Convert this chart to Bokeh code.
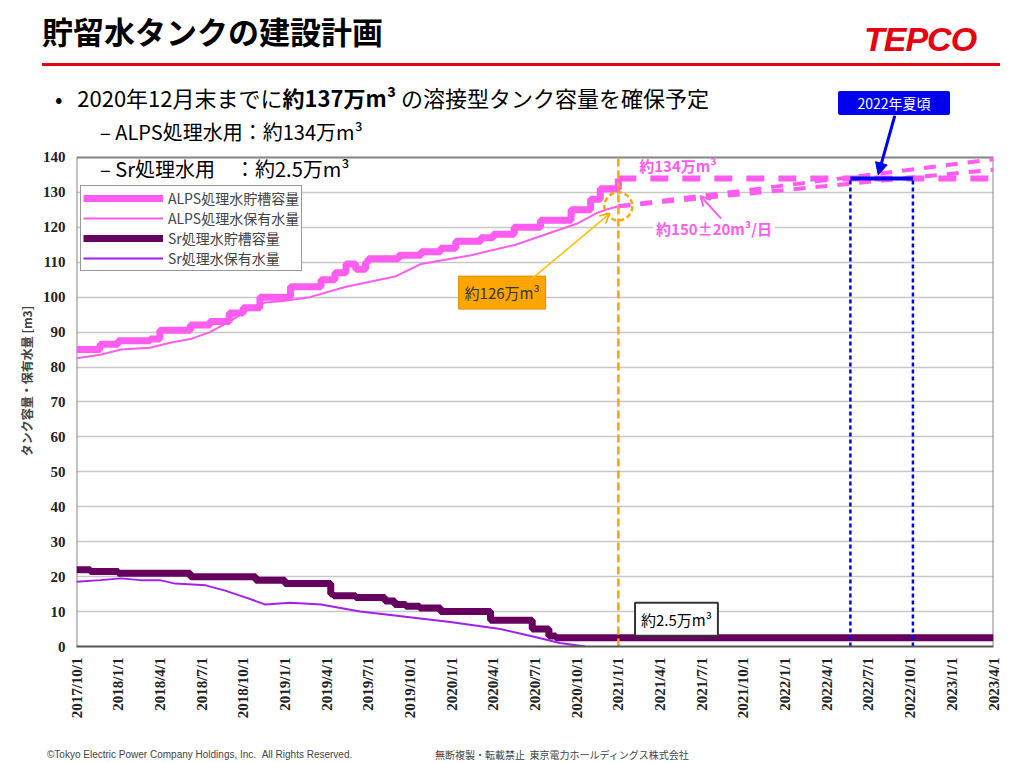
import math
from bokeh.plotting import figure
from bokeh.layouts import column
from bokeh.models import (Label, Arrow, NormalHead, OpenHead, FixedTicker, Legend, LegendItem, Div)
from bokeh.embed import file_html
from bokeh.resources import INLINE

# ---- data (x = months since 2017/10/1) ----
tick_labels = ["2017/10/1","2018/1/1","2018/4/1","2018/7/1","2018/10/1","2019/1/1","2019/4/1",
               "2019/7/1","2019/10/1","2020/1/1","2020/4/1","2020/7/1","2020/10/1","2021/1/1",
               "2021/4/1","2021/7/1","2021/10/1","2022/1/1","2022/4/1","2022/7/1","2022/10/1",
               "2023/1/1","2023/4/1"]
alps_cap_x = [0, 1.7, 3.0, 5.3, 6.0, 8.2, 9.6, 11.0, 12.0, 13.2, 15.4, 17.6, 18.6, 19.4, 20.1, 20.8,
              21.0, 23.2, 24.8, 26.2, 27.3, 29.1, 30.0, 31.5, 33.4, 35.6, 37.0, 37.7, 39.0]
alps_cap_y = [85, 86.5, 87.5, 88, 90.5, 92, 93, 95.5, 97, 100, 103, 105, 107, 109.5, 108, 110,
              111, 112, 113, 114, 116, 117, 118, 120, 122, 125, 128, 131, 134]
alps_hold_x = [0, 1.7, 3.2, 5.3, 6.8, 8.2, 9.6, 11.0, 12.2, 13.6, 15.0, 16.8, 19.4, 23.0, 24.8,
               28.4, 31.6, 33.8, 36.0, 37.4, 38.1, 39.0]
alps_hold_y = [82.5, 83.5, 85, 85.5, 87, 88, 90, 93, 96, 98.5, 99, 100, 103, 106, 109.5,
               112, 115, 118, 121, 124, 125, 126]
cap_plan_x = [39, 66]
cap_plan_y = [134, 134]
proj_hi_x = [39, 66]
proj_hi_y = [126, 139.5]
proj_lo_x = [39, 66]
proj_lo_y = [126, 136.5]
sr_cap_x = [0, 1.0, 3.0, 8.2, 12.9, 15.0, 18.3, 18.5, 20.1, 22.2, 22.9, 23.7, 24.7, 26.2, 27.3,
            29.8, 31.5, 32.8, 34.0, 34.5, 66]
sr_cap_y = [22, 21.5, 21, 20, 19, 18, 15, 14.5, 14, 13, 12, 11.5, 11, 10, 10,
            7.5, 7.5, 5, 3, 2.5, 2.5]
sr_hold_x = [0, 1.7, 3.2, 4.6, 6.0, 7.1, 9.3, 10.7, 12.2, 13.6, 15.4, 17.6, 20.4, 22.6, 26.9,
             30.5, 32.7, 34.8, 36.6]
sr_hold_y = [18.5, 19, 19.5, 19, 19, 18, 17.5, 16, 14, 12, 12.5, 12, 10, 9, 7, 5, 3, 1, 0]
target_month = 39
summer_2022 = [55.7, 60.2]

PINK = "#ff5cf0"
SRCAP = "#66005e"
SRHOLD = "#a41ef0"
JP = "'Noto Sans CJK JP', sans-serif"

header = Div(width=1024, height=115, styles={"margin": "0", "padding": "0"}, text=f"""
<div style="position:relative;width:1024px;height:115px;font-family:{JP};color:#000;">
 <div style="position:absolute;left:42px;top:9px;font-size:31px;font-weight:bold;">貯留水タンクの建設計画</div>
 <div style="position:absolute;left:864px;top:15px;font-size:34px;font-weight:bold;font-style:italic;color:#e60012;font-family:'Liberation Sans';letter-spacing:-1px;">TEPCO</div>
 <div style="position:absolute;left:42px;top:63px;width:958px;height:3px;background:#e60012;"></div>
 <div style="position:absolute;left:55px;top:82px;font-size:22px;white-space:nowrap;">•&nbsp;&nbsp;&nbsp;2020年12月末までに<b>約137万m³</b> の溶接型タンク容量を確保予定</div>
 <div style="position:absolute;left:838px;top:91px;width:112px;height:24px;background:#0000ee;color:white;font-size:14px;text-align:center;line-height:24px;border-radius:2px;">2022年夏頃</div>
</div>""")

p = figure(width=1024, height=628, x_range=(0, 66), y_range=(0, 152),
           output_backend="svg", toolbar_location=None,
           min_border_left=76, min_border_right=31, min_border_top=0, min_border_bottom=97)
p.outline_line_color = None
p.background_fill_color = "white"
p.xgrid.grid_line_color = None
p.ygrid.grid_line_color = "#c8c8c8"
p.ygrid.grid_line_width = 1.5
p.yaxis.ticker = FixedTicker(ticks=list(range(0, 141, 10)))
p.xaxis.ticker = FixedTicker(ticks=list(range(0, 67, 3)))
p.xaxis.major_label_overrides = {i * 3: t for i, t in enumerate(tick_labels)}
p.xaxis.major_label_orientation = math.pi / 2
for ax in (p.xaxis, p.yaxis):
    ax.axis_line_color = None
    ax.major_tick_line_color = None
    ax.minor_tick_line_color = None
    ax.major_label_text_font = "Liberation Serif"
    ax.major_label_text_font_style = "bold"
    ax.major_label_text_color = "#222222"
p.xaxis.axis_line_color = "#555555"
p.xaxis.axis_line_width = 2
p.xaxis.major_label_text_font_size = "15px"
p.yaxis.major_label_text_font_size = "15px"
p.yaxis.axis_label = "タンク容量・保有水量 [m3]"
p.yaxis.axis_label_text_font = "Noto Sans CJK JP"
p.yaxis.axis_label_text_font_size = "12px"
p.yaxis.axis_label_text_font_style = "bold"

p.line([0, 0, 66, 66], [0, 140, 140, 0], line_color="#888888", line_width=2)

r1 = p.step(alps_cap_x, alps_cap_y, mode="after", line_color=PINK, line_width=7)
r2 = p.line(alps_hold_x, alps_hold_y, line_color=PINK, line_width=2)
r3 = p.step(sr_cap_x, sr_cap_y, mode="after", line_color=SRCAP, line_width=7)
r4 = p.line(sr_hold_x, sr_hold_y, line_color=SRHOLD, line_width=2)
p.line(cap_plan_x, cap_plan_y, line_color=PINK, line_width=6, line_dash="18 14")
p.line(proj_hi_x, proj_hi_y, line_color=PINK, line_width=4, line_dash="12 10")
p.line(proj_lo_x, proj_lo_y, line_color=PINK, line_width=4, line_dash="12 10")

p.line([target_month, target_month], [0, 140], line_color="#ffa500", line_width=2.5, line_dash="8 4")
p.scatter([target_month], [126], size=28, marker="circle", fill_color=None,
          line_color="#ffa500", line_width=2.5, line_dash="5 3")

p.line([summer_2022[0]] * 2, [0, 134], line_color="#0000ee", line_width=2.5, line_dash="4 3")
p.line([summer_2022[1]] * 2, [0, 134], line_color="#0000ee", line_width=2.5, line_dash="4 3")
p.line(summer_2022, [134, 134], line_color="#0000ee", line_width=4)

legend = Legend(items=[LegendItem(label="ALPS処理水貯槽容量", renderers=[r1]),
                       LegendItem(label="ALPS処理水保有水量", renderers=[r2]),
                       LegendItem(label="Sr処理水貯槽容量", renderers=[r3]),
                       LegendItem(label="Sr処理水保有水量", renderers=[r4])],
                location=(4, 375), spacing=0, padding=2, margin=0,
                label_text_font="Noto Sans CJK JP", label_text_font_size="14px",
                label_height=18, glyph_height=18, glyph_width=80,
                border_line_color="#333333", border_line_width=1.5)
p.add_layout(legend)

def lab(x, y, text, size, color="black", style="normal", font="Noto Sans CJK JP", **kw):
    p.add_layout(Label(x=x, y=y, text=text, text_font_size=size, text_color=color,
                       text_font_style=style, text_font=font, text_baseline="middle", **kw))

lab(1.7, 147.5, "–   ALPS処理水用：約134万m³", "20px")
lab(1.7, 136.8, "–   Sr処理水用　：約2.5万m³", "20px")

lab(40.5, 137.8, "約134万m³", "15px", color=PINK, style="bold")
lab(41.5, 119.7, "約150±20m³/日", "15px", color=PINK, style="bold",
    background_fill_color="white", padding=3)
p.add_layout(Arrow(end=OpenHead(size=10, line_color=PINK, line_width=2),
                   x_start=46.4, y_start=122.5, x_end=44.9, y_end=129,
                   line_color=PINK, line_width=2))
lab(27.5, 101.3, "約126万m³", "15px", color="#333333", background_fill_color="#ffa500",
    border_line_color="#e09000", padding=6)
p.add_layout(Arrow(end=OpenHead(size=10, line_color="#ffa500", line_width=1.5),
                   x_start=32.7, y_start=105, x_end=38.4, y_end=124,
                   line_color="#ffc000", line_width=1.5))
lab(40.2, 7.8, "約2.5万m³", "15px", background_fill_color="white",
    border_line_color="#333333", border_line_width=2, padding=6)
p.add_layout(Arrow(end=NormalHead(size=12, fill_color="#0000ee", line_color="#0000ee"),
                   x_start=58.9, y_start=152, x_end=57.7, y_end=135,
                   line_color="#0000ee", line_width=3))

footer = Div(width=1024, height=20, text=f"""
<div style="position:relative;width:1024px;height:20px;color:#444;font-size:10px;">
 <div style="position:absolute;left:42px;top:0px;font-family:'Liberation Sans';">©Tokyo Electric Power Company Holdings, Inc.&nbsp;&nbsp;All Rights Reserved.</div>
 <div style="position:absolute;left:430px;top:0px;font-family:{JP};">無断複製・転載禁止&nbsp;&nbsp;東京電力ホールディングス株式会社</div>
</div>""")

page = column(header, p, footer, spacing=0)
open("out.html", "w").write(file_html(page, INLINE))
